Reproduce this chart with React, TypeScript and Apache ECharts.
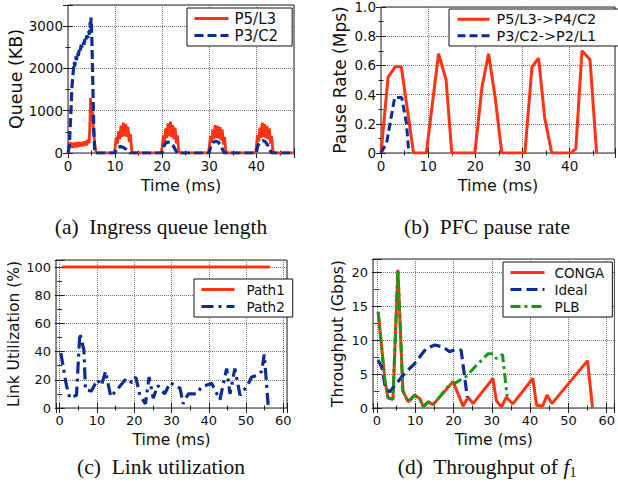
import React, { useEffect, useRef } from 'react';
import * as echarts from 'echarts';

type Pt = [number, number];

const FONT = 'DejaVu Sans';
const SERIF = 'Liberation Serif';
const RED = '#ff3311';
const BLUE = '#0b2d94';
const GREEN = '#159a15';

// ---------- (a) Ingress queue length (KB) ----------
const queueP5L3: Pt[] = [
  [0, 110], [0.25, 260], [0.5, 130], [0.75, 250], [1, 120], [1.25, 240], [1.5, 130], [1.75, 250],
  [2, 140], [2.25, 260], [2.5, 150], [2.75, 250], [3, 160], [3.25, 270], [3.5, 170], [3.75, 290],
  [4, 180], [4.25, 320], [4.5, 230], [4.65, 700], [4.8, 1300], [4.95, 950], [5.1, 1150], [5.3, 700],
  [5.5, 450], [5.7, 200], [5.9, 40], [6.1, 0], [9.8, 0],
  [10, 120], [10.25, 380], [10.5, 220], [10.75, 520], [11, 330], [11.25, 650], [11.5, 380], [11.75, 720],
  [12, 400], [12.25, 680], [12.5, 380], [12.75, 620], [13, 260], [13.25, 450], [13.5, 90], [13.75, 0], [19.8, 0],
  [20, 150], [20.25, 420], [20.5, 260], [20.75, 580], [21, 350], [21.25, 700], [21.5, 400], [21.75, 740],
  [22, 380], [22.25, 660], [22.5, 330], [22.75, 600], [23, 230], [23.25, 420], [23.5, 70], [23.75, 0], [29.8, 0],
  [30, 130], [30.25, 400], [30.5, 250], [30.75, 560], [31, 330], [31.25, 660], [31.5, 360], [31.75, 640],
  [32, 340], [32.25, 620], [32.5, 300], [32.75, 560], [33, 200], [33.25, 380], [33.5, 60], [33.75, 0], [39.8, 0],
  [40, 140], [40.25, 430], [40.5, 270], [40.75, 600], [41, 360], [41.25, 720], [41.5, 380], [41.75, 690],
  [42, 350], [42.25, 640], [42.5, 320], [42.75, 580], [43, 220], [43.25, 400], [43.5, 70], [43.75, 0], [48, 0],
];
const queueP3C2: Pt[] = [
  [0, 0], [0.28, 150], [0.57, 860], [0.85, 1580], [1.13, 1940], [1.3, 2150], [1.45, 2050], [1.6, 2280],
  [1.8, 2200], [2.0, 2380], [2.2, 2300], [2.4, 2450], [2.6, 2400], [2.8, 2560], [3.0, 2500], [3.2, 2620],
  [3.4, 2560], [3.6, 2700], [3.8, 2650], [4.0, 2780], [4.2, 2720], [4.4, 2880], [4.55, 2800], [4.7, 3090],
  [4.8, 2950], [4.9, 3200], [5.05, 2800], [5.2, 2000], [5.35, 1200], [5.5, 500], [5.65, 100], [5.8, 0],
  [10, 0], [10.3, 100], [10.7, 140], [11.2, 150], [11.8, 130], [12.3, 90], [12.8, 30], [13.1, 0],
  [20, 0], [20.3, 150], [20.7, 230], [21.2, 260], [21.7, 250], [22.3, 180], [22.8, 80], [23.2, 0],
  [30, 0], [30.3, 160], [30.8, 250], [31.4, 280], [31.9, 260], [32.4, 180], [32.9, 70], [33.2, 0],
  [40, 0], [40.3, 170], [40.8, 260], [41.4, 290], [41.9, 270], [42.4, 190], [42.9, 70], [43.2, 0], [48, 0],
];

// ---------- (b) PFC pause rate (Mps) ----------
const pauseP5L3: Pt[] = [
  [0, 0], [1.5, 0.52], [3.0, 0.59], [4.3, 0.59], [6.9, 0], [9.6, 0], [12.2, 0.68], [13.8, 0.5],
  [15.0, 0], [19.9, 0], [21.4, 0.45], [22.8, 0.68], [24.2, 0.38], [25.6, 0], [30.5, 0], [32.0, 0.59],
  [33.4, 0.65], [34.7, 0.24], [36.2, 0], [40.3, 0], [41.3, 0.03], [42.6, 0.7], [44.3, 0.64], [45.7, 0],
];
const pauseP3C2: Pt[] = [[0, 0], [1.2, 0.07], [2.9, 0.38], [4.4, 0.38], [5.4, 0.2], [5.9, 0]];

// ---------- (c) Link utilization (%) ----------
const linkPath1: Pt[] = [[0.6, 100], [56.4, 100]];
const linkPath2: Pt[] = [
  [0.3, 39], [1.8, 16], [2.7, 7], [4.5, 9], [5.4, 53], [6.5, 41], [6.9, 13], [8.5, 12], [10.1, 20],
  [11.2, 16], [12.3, 26], [13.7, 8], [15.7, 14], [17.9, 21], [19.4, 18], [20.4, 22], [21.5, 9], [23.0, 3],
  [24.0, 22], [25.1, 7], [26.3, 16], [28.2, 10], [29.6, 18], [32.3, 14], [33.1, 3], [34.5, 10], [36.7, 10],
  [38.1, 15], [40.8, 17.5], [41.8, 12], [43.0, 6], [44.8, 28], [45.7, 10], [47.0, 28], [48.4, 9], [50.4, 16],
  [51.5, 22], [52.9, 23], [54.2, 26], [54.9, 38], [56.0, 0],
];

// ---------- (d) Throughput of f1 (Gbps) ----------
const tputCONGA: Pt[] = [
  [0.35, 14.2], [2.1, 4.1], [2.9, 1.5], [4.2, 1.3], [5.5, 20.4], [6.8, 2.5], [8.2, 0.9], [9.8, 1.9],
  [11.2, 1.4], [12.1, 0.2], [13.4, 0.9], [14.7, 0.5], [19.9, 3.9], [22.5, 0.25], [23.8, 1.6], [25.1, 0.65],
  [30.3, 4.35], [31.2, 1.1], [32.5, 0.15], [33.8, 1.6], [35.5, 0.6], [40.7, 4.35], [41.7, 0.4], [43.3, 0.3],
  [44.4, 1.9], [45.7, 0.65], [55.0, 7.0], [56.3, 0],
];
const tputIdeal: Pt[] = [
  [0.3, 7.1], [1.3, 6.0], [2.3, 2.8], [3.4, 2.4], [5.1, 3.6], [6.8, 4.8], [9.9, 6.6], [12.9, 8.8],
  [15.1, 9.3], [17.3, 9.0], [19.0, 8.3], [20.3, 8.6], [22.0, 8.55], [23.6, 1.6],
];
const tputPLB: Pt[] = [
  [0.35, 14.2], [2.1, 4.1], [2.9, 1.5], [4.2, 1.3], [5.5, 20.4], [6.8, 2.5], [8.2, 0.9], [9.8, 1.9],
  [11.2, 1.4], [12.1, 0.2], [13.4, 0.9], [14.7, 0.5], [18.5, 3.1], [20.5, 3.7], [23.4, 4.7], [26.0, 6.3],
  [29.0, 8.0], [30.3, 8.0], [31.2, 7.3], [32.8, 7.9], [34.0, 1.7],
];

const xName = 'Time (ms)';
const yNames = ['Queue (KB)', 'Pause Rate (Mps)', 'Link Utilization (%)', 'Throughput (Gbps)'];
const captions = ['(a)  Ingress queue length', '(b)  PFC pause rate', '(c)  Link utilization'];

const onStep = (v: number, step: number) => Math.abs(v / step - Math.round(v / step)) < 1e-6;

const panels = [
  {
    grid: { left: 68, top: 5, width: 226, height: 148 },
    x: { min: 0, max: 48, interval: 10 }, xStep: 10,
    y: { min: 0, max: 3500, interval: 1000 }, yStep: 1000,
    yFmt: (v: number) => String(v), tick: 13.5, xNameSize: 16, yNameSize: 17.5, xGap: 24, yGap: 43,
  },
  {
    grid: { left: 381, top: 6, width: 237, height: 147 },
    x: { min: 0, max: 49.6, interval: 10 }, xStep: 10,
    y: { min: 0, max: 1, interval: 0.2 }, yStep: 0.2,
    yFmt: (v: number) => (v === 0 ? '0' : v.toFixed(1)), tick: 13.5, xNameSize: 16, yNameSize: 17, xGap: 24, yGap: 33,
  },
  {
    grid: { left: 56, top: 260, width: 231, height: 148 },
    x: { min: -1, max: 61, minInterval: 10, maxInterval: 10 }, xStep: 10,
    y: { min: 0, max: 105, interval: 20 }, yStep: 20,
    yFmt: (v: number) => String(v), tick: 13, xNameSize: 15.5, yNameSize: 15.5, xGap: 24, yGap: 33,
  },
  {
    grid: { left: 373, top: 259, width: 242, height: 149 },
    x: { min: -1, max: 62, minInterval: 10, maxInterval: 10 }, xStep: 10,
    y: { min: 0, max: 22, interval: 5 }, yStep: 5,
    yFmt: (v: number) => String(v), tick: 13, xNameSize: 15.5, yNameSize: 15.5, xGap: 24, yGap: 27,
  },
];

const TICK = '#222';
function buildOption(): any {
  const grid: any[] = [];
  const xAxis: any[] = [];
  const yAxis: any[] = [];
  panels.forEach((p, i) => {
    grid.push({ ...p.grid, show: true, borderColor: '#222', borderWidth: 1, backgroundColor: '#fff', containLabel: false });
    const tickCfg = { show: true, inside: true, length: 5, lineStyle: { color: TICK, width: 1 } };
    const minorCfg = { show: true, splitNumber: 2, length: 2.5, lineStyle: { color: TICK, width: 1 } };
    xAxis.push({
      type: 'value', gridIndex: i, position: 'bottom', ...p.x,
      axisLine: { show: false }, axisTick: tickCfg, minorTick: minorCfg,
      splitLine: { show: true, lineStyle: { color: '#777', type: 'dotted', width: 1 } },
      axisLabel: {
        fontSize: p.tick, fontFamily: FONT, color: '#111', margin: 6,
        formatter: (v: number) => (onStep(v, p.xStep) && v >= 0 ? String(Math.round(v)) : ''),
      },
      name: xName, nameLocation: 'middle', nameGap: p.xGap,
      nameTextStyle: { fontSize: p.xNameSize, fontFamily: FONT, color: '#111', verticalAlign: 'top' },
    });
    xAxis.push({
      type: 'value', gridIndex: i, position: 'top', ...p.x,
      axisLine: { show: false }, axisTick: tickCfg, minorTick: minorCfg,
      splitLine: { show: false }, axisLabel: { show: false },
    });
    yAxis.push({
      type: 'value', gridIndex: i, position: 'left', ...p.y,
      axisLine: { show: false }, axisTick: tickCfg, minorTick: minorCfg,
      splitLine: { show: true, lineStyle: { color: '#777', type: 'dotted', width: 1 } },
      axisLabel: {
        fontSize: p.tick, fontFamily: FONT, color: '#111', margin: 5,
        formatter: (v: number) => (onStep(v, p.yStep) ? p.yFmt(v) : ''),
      },
      name: yNames[i], nameLocation: 'middle', nameGap: p.yGap,
      nameTextStyle: { fontSize: p.yNameSize, fontFamily: FONT, color: '#111' },
    });
    yAxis.push({
      type: 'value', gridIndex: i, position: 'right', ...p.y,
      axisLine: { show: false }, axisTick: tickCfg, minorTick: minorCfg,
      splitLine: { show: false }, axisLabel: { show: false },
    });
  });

  const line = (name: string, idx: number, data: Pt[], color: string, type: any, width = 3, z = 2) => ({
    type: 'line', name, xAxisIndex: idx * 2, yAxisIndex: idx * 2, data, symbol: 'none', showSymbol: false,
    lineStyle: { color, width, type }, itemStyle: { color }, z, clip: true,
  });

  const series = [
    line('P5/L3', 0, queueP5L3, RED, 'solid', 2.8),
    line('P3/C2', 0, queueP3C2, BLUE, [9, 4], 3.2, 3),
    line('P5/L3->P4/C2', 1, pauseP5L3, RED, 'solid'),
    line('P3/C2->P2/L1', 1, pauseP3C2, BLUE, [8, 4], 3, 3),
    line('Path1', 2, linkPath1, RED, 'solid'),
    line('Path2', 2, linkPath2, BLUE, [12, 5, 3, 5], 3.2, 3),
    line('CONGA', 3, tputCONGA, RED, 'solid'),
    line('Ideal', 3, tputIdeal, BLUE, [11, 5], 3.2, 3),
    line('PLB', 3, tputPLB, GREEN, [10, 4, 3, 4], 3, 4),
  ];

  const legendBase = {
    orient: 'vertical', itemWidth: 34, itemHeight: 10, itemGap: 0, borderColor: '#111', borderWidth: 1,
    borderRadius: 0, backgroundColor: '#fff', selectedMode: false,
    itemStyle: { opacity: 0, borderWidth: 0 },
    lineStyle: { width: 3 },
  };
  const legend = [
    { ...legendBase, data: ['P5/L3', 'P3/C2'], left: 187, top: 8, padding: [2, 14, 2, 6],
      textStyle: { fontSize: 15, lineHeight: 17, fontFamily: FONT, color: '#111', padding: [0, 0, 0, 1] } },
    { ...legendBase, data: ['P5/L3->P4/C2', 'P3/C2->P2/L1'], left: 449, top: 9, itemWidth: 32, padding: [2, 30, 2, 7],
      textStyle: { fontSize: 14.5, lineHeight: 16.5, fontFamily: FONT, color: '#111', padding: [0, 0, 0, 2] } },
    { ...legendBase, data: ['Path1', 'Path2'], left: 194, top: 279, itemWidth: 33, padding: [2, 8, 2, 6],
      textStyle: { fontSize: 13.5, lineHeight: 17, fontFamily: FONT, color: '#111', padding: [0, 0, 0, 7] } },
    { ...legendBase, data: ['CONGA', 'Ideal', 'PLB'], left: 503, top: 262, itemWidth: 34, padding: [2, 8, 2, 6],
      textStyle: { fontSize: 13.5, lineHeight: 17, fontFamily: FONT, color: '#111', padding: [0, 0, 0, 5] } },
  ];

  const capStyle = { fontFamily: SERIF, fontSize: 21.5, fill: '#111', align: 'center', verticalAlign: 'middle' };
  const graphic = [
    { type: 'text', x: 161, y: 227, style: { ...capStyle, text: captions[0] } },
    { type: 'text', x: 487, y: 227, style: { ...capStyle, text: captions[1] } },
    { type: 'text', x: 161, y: 467, style: { ...capStyle, text: captions[2] } },
    {
      type: 'text', x: 487, y: 467,
      style: {
        ...capStyle, text: '{n|(d)  Throughput of }{f|f}{s|1}',
        rich: {
          n: { fontFamily: SERIF, fontSize: 21.5, fill: '#111' },
          f: { fontFamily: SERIF, fontSize: 21.5, fontStyle: 'italic', fill: '#111' },
          s: { fontFamily: SERIF, fontSize: 14, fill: '#111', padding: [10, 0, 0, 0] },
        },
      },
    },
  ];

  return { animation: false, backgroundColor: '#fff', grid, xAxis, yAxis, series, legend, graphic };
}

export default function App() {
  const ref = useRef<HTMLDivElement>(null);
  useEffect(() => {
    document.body.style.margin = '0';
    const chart = echarts.init(ref.current as HTMLDivElement, null, { renderer: 'svg' });
    chart.setOption(buildOption());
    return () => chart.dispose();
  }, []);
  return <div ref={ref} style={{ width: 618, height: 499 }} />;
}
